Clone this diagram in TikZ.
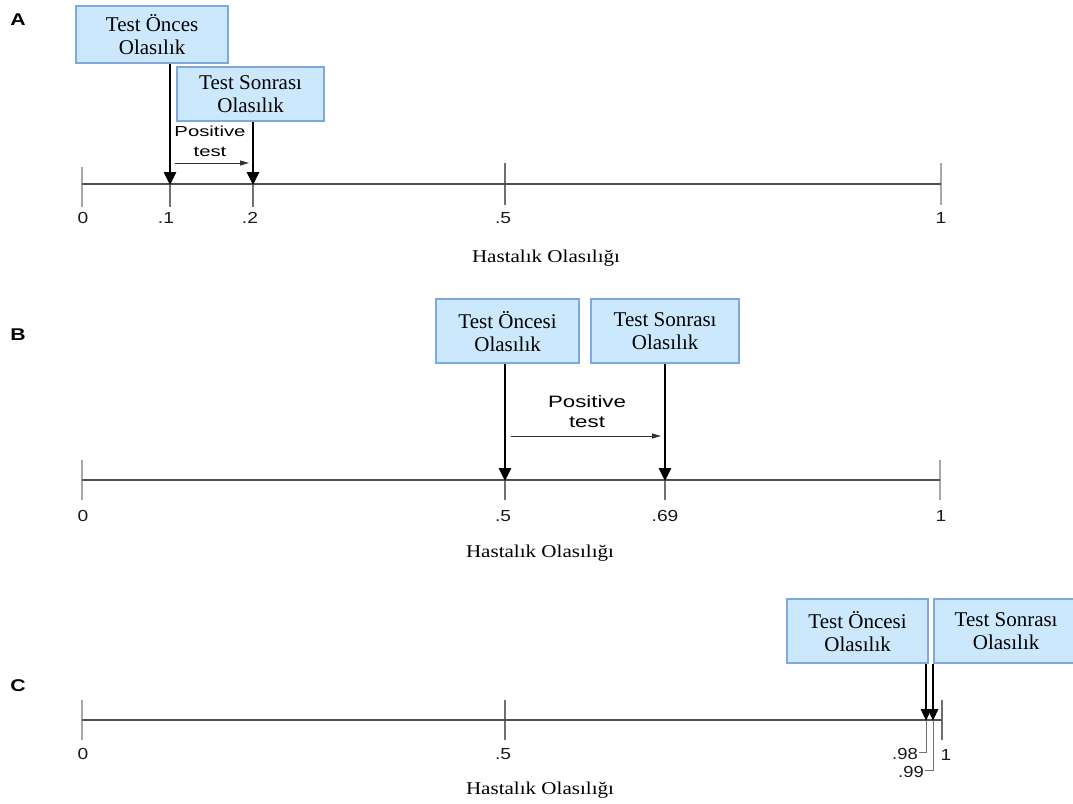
\documentclass[tikz,border=0pt]{standalone}
\usepackage{fontspec}
\setmainfont{Liberation Serif}
\newfontfamily\arialf{Liberation Sans}
\usetikzlibrary{arrows.meta}
\definecolor{boxfill}{HTML}{CCE8FC}
\definecolor{boxedge}{HTML}{80A8E0}
\definecolor{axisc}{HTML}{505050}
\definecolor{tickc}{HTML}{A8A8A8}
\definecolor{thintick}{HTML}{707070}
\newcommand{\hsc}[2]{\scalebox{#1}[1]{#2}}
\begin{document}
\begin{tikzpicture}[x=1pt,y=-1pt,
  box/.style={draw=boxedge, line width=2.2pt, fill=boxfill, align=center,
    font=\fontsize{21}{23}\selectfont, inner sep=0pt, anchor=north west},
  axisline/.style={draw=axisc, line width=1.2pt},
  majtick/.style={draw=tickc, line width=2.5pt},
  mintick/.style={draw=thintick, line width=1.2pt},
  ticklab/.style={font=\arialf\fontsize{16}{16}\selectfont, inner sep=0pt, text=black!90},
  bigarrow/.style={draw=black, line width=2.6pt, -{Triangle[width=12pt,length=13pt]}, shorten >=-1pt},
  smallarrow/.style={draw=black!80, line width=1pt, -{Triangle[width=5pt,length=9pt]}},
  postext/.style={font=\arialf\fontsize{#1}{#1}\selectfont, inner sep=0pt},
  axtitle/.style={font=\fontsize{18}{18}\selectfont, inner sep=0pt},
  panel/.style={font=\arialf\bfseries\fontsize{17}{17}\selectfont, inner sep=0pt}
]
\useasboundingbox (0,0) rectangle (1073,803);

% ---------------- Panel A ----------------
\node[panel] (pa) at (18,20) {\hsc{1.25}{A}};
\node[box, minimum width=152pt, minimum height=57pt] (a1) at (75,5) {Test Önces\\Olasılık};
\node[box, minimum width=147pt, minimum height=54pt] (a2) at (176,66) {Test Sonrası\\Olasılık};
\coordinate (aL) at (82,184);
\coordinate (aR) at (941,184);
\coordinate (ap1) at (170,184);
\coordinate (ap2) at (253,184);
\draw[majtick] (82,167) -- (82,207);
\draw[majtick] (941,163) -- (941,205);
\draw[mintick] (170,184) -- (170,207);
\draw[mintick] (253,184) -- (253,207);
\draw[mintick] (505,163) -- (505,205);
\draw[axisline] (aL) -- (aR);
\draw[bigarrow] (a1.south -| ap1) -- (ap1);
\draw[bigarrow] (a2.south -| ap2) -- (ap2);
\node[postext=14.5] (apos1) at (210,131) {\hsc{1.4}{Positive}};
\node[postext=14.5] (apos2) at (210,152) {\hsc{1.4}{test}};
\coordinate (as1) at (175,163);
\coordinate (as2) at (249,163);
\draw[smallarrow] (as1) -- (as2);
\node[ticklab] (al0) at (83,218) {\hsc{1.2}{0}};
\node[ticklab] (al1) at (166,218) {\hsc{1.2}{.1}};
\node[ticklab] (al2) at (250,218) {\hsc{1.2}{.2}};
\node[ticklab] (al5) at (503,218) {\hsc{1.2}{.5}};
\node[ticklab] (all) at (941,218) {\hsc{1.2}{1}};
\node[axtitle] (at) at (546,258) {\hsc{1.17}{Hastalık Olasılığı}};

% ---------------- Panel B ----------------
\node[panel] (pb) at (18,335) {\hsc{1.25}{B}};
\node[box, minimum width=143pt, minimum height=64pt] (b1) at (435,298) {Test Öncesi\\Olasılık};
\node[box, minimum width=148pt, minimum height=64pt] (b2) at (590,298) {Test Sonrası\\Olasılık};
\coordinate (bL) at (82,480);
\coordinate (bR) at (940,480);
\coordinate (bp1) at (505,480);
\coordinate (bp2) at (665,480);
\draw[majtick] (82,460) -- (82,500);
\draw[majtick] (940,460) -- (940,500);
\draw[mintick] (505,480) -- (505,500);
\draw[mintick] (665,480) -- (665,500);
\draw[axisline] (bL) -- (bR);
\draw[bigarrow] (b1.south -| bp1) -- (bp1);
\draw[bigarrow] (b2.south -| bp2) -- (bp2);
\node[postext=16.5] (bpos1) at (587,402) {\hsc{1.35}{Positive}};
\node[postext=16.5] (bpos2) at (587,422) {\hsc{1.35}{test}};
\coordinate (bs1) at (511,436);
\coordinate (bs2) at (661,436);
\draw[smallarrow] (bs1) -- (bs2);
\node[ticklab] (bl0) at (83,516) {\hsc{1.2}{0}};
\node[ticklab] (bl5) at (503,516) {\hsc{1.2}{.5}};
\node[ticklab] (bl69) at (665,516) {\hsc{1.2}{.69}};
\node[ticklab] (bll) at (941,516) {\hsc{1.2}{1}};
\node[axtitle] (bt) at (540,553) {\hsc{1.17}{Hastalık Olasılığı}};

% ---------------- Panel C ----------------
\node[panel] (pc) at (18,686) {\hsc{1.25}{C}};
\node[box, minimum width=141pt, minimum height=64pt] (c1) at (786,598) {Test Öncesi\\Olasılık};
\node[box, minimum width=144pt, minimum height=64pt] (c2) at (933,598) {Test Sonrası\\Olasılık};
\coordinate (cL) at (82,720);
\coordinate (cR) at (942,720);
\coordinate (cp1) at (926,720);
\coordinate (cp2) at (933,720);
\draw[majtick] (82,700) -- (82,740);
\draw[mintick] (505,700) -- (505,740);
\draw[mintick] (942,700) -- (942,740);
\draw[axisline] (cL) -- (cR);
\draw[mintick, line width=1pt] (cp1) -- (926,752) -- (919,752);
\draw[mintick, line width=1pt] (cp2) -- (933,770) -- (925,770);
\draw[bigarrow, -{Triangle[width=10pt,length=12pt]}] (c1.south -| cp1) -- (cp1);
\draw[bigarrow, -{Triangle[width=10pt,length=12pt]}] (c2.south -| cp2) -- (cp2);
\node[ticklab, anchor=east] (cl98) at (918,754) {\hsc{1.15}{.98}};
\node[ticklab, anchor=east] (cl99) at (924,772) {\hsc{1.15}{.99}};
\node[ticklab] (cl0) at (83,754) {\hsc{1.2}{0}};
\node[ticklab] (cl5) at (503,754) {\hsc{1.2}{.5}};
\node[ticklab] (cll) at (946,755) {\hsc{1.2}{1}};
\node[axtitle] (ct) at (540,790) {\hsc{1.17}{Hastalık Olasılığı}};
\end{tikzpicture}
\end{document}
